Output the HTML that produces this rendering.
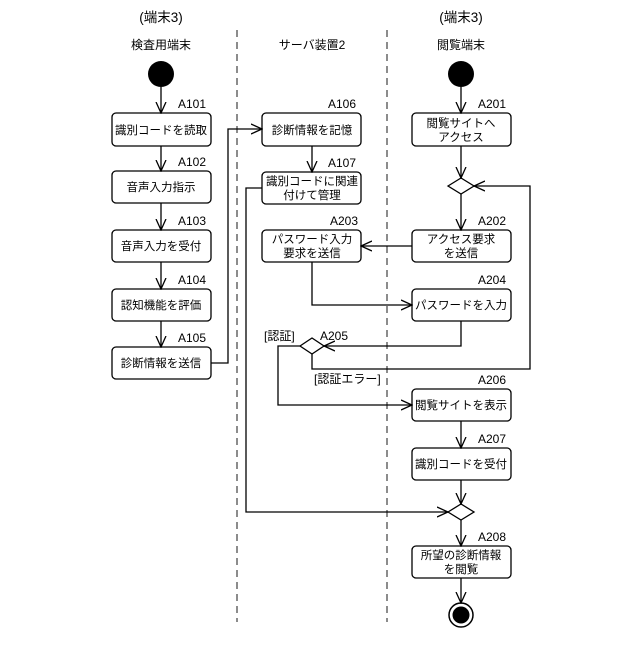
<!DOCTYPE html>
<html><head><meta charset="utf-8"><style>
html,body{margin:0;padding:0;background:#fff;}
svg text{font-family:"Liberation Sans","Noto Sans CJK JP",sans-serif;fill:#000;}
</style></head><body>
<svg width="640" height="640" viewBox="0 0 640 640" xmlns="http://www.w3.org/2000/svg">
<defs>
<marker id="a" viewBox="0 0 12 12" refX="11" refY="6" markerWidth="12" markerHeight="12" markerUnits="userSpaceOnUse" orient="auto">
<path d="M0,1 L11,6 L0,11" fill="none" stroke="#000" stroke-width="1.3"/>
</marker>
</defs>
<g stroke="#666" stroke-width="1.5" stroke-dasharray="7,5">
<line x1="237" y1="30" x2="237" y2="622"/>
<line x1="387" y1="30" x2="387" y2="622"/>
</g>
<g font-size="13.5" text-anchor="middle">
<text x="161" y="22">(端末3)</text>
<text x="461" y="22">(端末3)</text>
</g>
<g font-size="12" text-anchor="middle">
<text x="161" y="49">検査用端末</text>
<text x="312" y="49">サーバ装置2</text>
<text x="461" y="49">閲覧端末</text>
</g>
<circle cx="161" cy="74" r="13" fill="#000"/>
<circle cx="461" cy="74" r="13" fill="#000"/>
<circle cx="461" cy="615" r="12" fill="none" stroke="#000" stroke-width="1.5"/>
<circle cx="461" cy="615" r="8.5" fill="#000"/>
<g fill="#fff" stroke="#000" stroke-width="1.3">
<rect x="112" y="113" width="99" height="33" rx="4"/>
<rect x="112" y="171" width="99" height="32" rx="4"/>
<rect x="112" y="230" width="99" height="32" rx="4"/>
<rect x="112" y="289" width="99" height="32" rx="4"/>
<rect x="112" y="347" width="99" height="32" rx="4"/>
<rect x="262" y="113" width="99" height="33" rx="4"/>
<rect x="262" y="172" width="99" height="32" rx="4"/>
<rect x="262" y="230" width="99" height="32" rx="4"/>
<rect x="412" y="113" width="99" height="33" rx="4"/>
<rect x="412" y="230" width="99" height="32" rx="4"/>
<rect x="412" y="289" width="99" height="32" rx="4"/>
<rect x="412" y="389" width="99" height="32" rx="4"/>
<rect x="412" y="448" width="99" height="32" rx="4"/>
<rect x="412" y="546" width="99" height="32" rx="4"/>
<path d="M448,186 L461,178 L474,186 L461,194 Z"/>
<path d="M300,346 L312,338 L324,346 L312,354 Z"/>
<path d="M448,512 L461,504 L474,512 L461,520 Z"/>
</g>
<g fill="none" stroke="#000" stroke-width="1.3" marker-end="url(#a)">
<line x1="161" y1="87" x2="161" y2="113"/>
<line x1="161" y1="146" x2="161" y2="171"/>
<line x1="161" y1="203" x2="161" y2="230"/>
<line x1="161" y1="262" x2="161" y2="289"/>
<line x1="161" y1="321" x2="161" y2="347"/>
<polyline points="211,363 228,363 228,129 262,129"/>
<line x1="312" y1="146" x2="312" y2="172"/>
<polyline points="262,188 246,188 246,512 448,512"/>
<line x1="461" y1="87" x2="461" y2="113"/>
<line x1="461" y1="146" x2="461" y2="178"/>
<line x1="461" y1="194" x2="461" y2="230"/>
<line x1="412" y1="246" x2="361" y2="246"/>
<polyline points="312,262 312,305 412,305"/>
<polyline points="461,321 461,346 324,346"/>
<polyline points="312,354 312,369 530,369 530,186 474,186"/>
<polyline points="300,346 278,346 278,405 412,405"/>
<line x1="461" y1="421" x2="461" y2="448"/>
<line x1="461" y1="480" x2="461" y2="504"/>
<line x1="461" y1="520" x2="461" y2="546"/>
<line x1="461" y1="578" x2="461" y2="603"/>
</g>
<g font-size="12">
<text x="178" y="108">A101</text>
<text x="178" y="166">A102</text>
<text x="178" y="225">A103</text>
<text x="178" y="284">A104</text>
<text x="178" y="342">A105</text>
<text x="328" y="108">A106</text>
<text x="328" y="167">A107</text>
<text x="330" y="225">A203</text>
<text x="478" y="108">A201</text>
<text x="478" y="225">A202</text>
<text x="478" y="284">A204</text>
<text x="320" y="340">A205</text>
<text x="478" y="384">A206</text>
<text x="478" y="443">A207</text>
<text x="478" y="541">A208</text>
<text x="264" y="340">[認証]</text>
<text x="314" y="383">[認証エラー]</text>
</g>
<g font-size="11.5" text-anchor="middle">
<text x="161" y="134">識別コードを読取</text>
<text x="161" y="191">音声入力指示</text>
<text x="161" y="250">音声入力を受付</text>
<text x="161" y="309">認知機能を評価</text>
<text x="161" y="367">診断情報を送信</text>
<text x="312" y="134">診断情報を記憶</text>
<text x="312" y="185">識別コードに関連</text>
<text x="312" y="199">付けて管理</text>
<text x="312" y="243">パスワード入力</text>
<text x="312" y="257">要求を送信</text>
<text x="461" y="127">閲覧サイトへ</text>
<text x="461" y="141">アクセス</text>
<text x="461" y="243">アクセス要求</text>
<text x="461" y="257">を送信</text>
<text x="461" y="309">パスワードを入力</text>
<text x="461" y="409">閲覧サイトを表示</text>
<text x="461" y="468">識別コードを受付</text>
<text x="461" y="559">所望の診断情報</text>
<text x="461" y="573">を閲覧</text>
</g>
</svg>
</body></html>
